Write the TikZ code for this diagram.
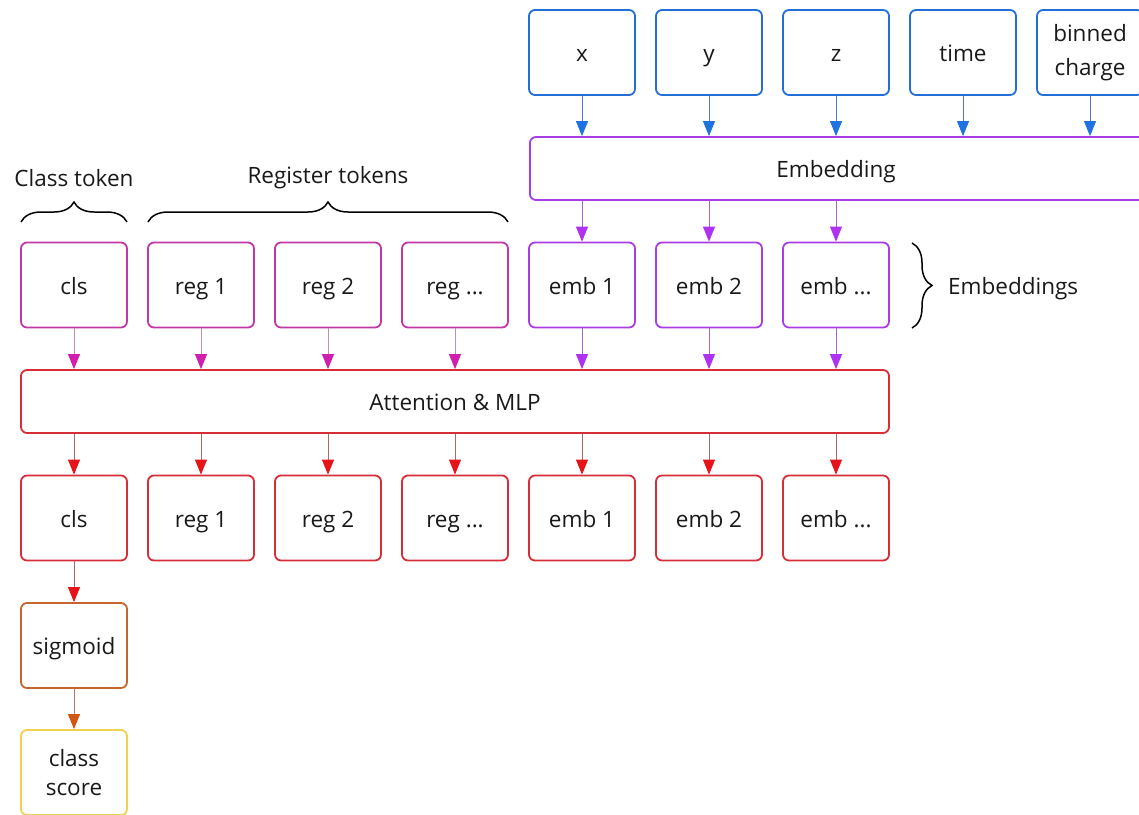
\documentclass[tikz,border=0pt]{standalone}
\usepackage{fontspec}
\setmainfont{Open Sans}
\usetikzlibrary{arrows.meta,decorations.pathreplacing}
\definecolor{cblue}{RGB}{35,110,215}
\definecolor{cbluetip}{RGB}{30,115,225}
\definecolor{cblueline}{RGB}{75,120,190}
\definecolor{cpurple}{RGB}{170,60,230}
\definecolor{cpurpletip}{RGB}{175,50,240}
\definecolor{cpurpleline}{RGB}{160,105,200}
\definecolor{cmag}{RGB}{195,55,165}
\definecolor{cmagtip}{RGB}{210,30,175}
\definecolor{cmagline}{RGB}{190,145,178}
\definecolor{cred}{RGB}{215,45,55}
\definecolor{credtip}{RGB}{230,20,25}
\definecolor{credline}{RGB}{170,105,105}
\definecolor{corange}{RGB}{200,100,45}
\definecolor{corangetip}{RGB}{210,85,20}
\definecolor{corangeline}{RGB}{170,125,115}
\definecolor{cyellow}{RGB}{240,210,80}
\definecolor{ctext}{RGB}{25,25,25}
\tikzset{
  basebox/.style={draw, rounded corners=6pt, line width=1.8pt, minimum width=106pt,
    minimum height=85pt, inner sep=0pt, fill=white, align=center, text=ctext,
    font=\fontsize{22.5}{29}\selectfont},
  box/.style={basebox, text height=18.5pt, text depth=0pt},
  twobox/.style={basebox},
  widebox/.style={box, minimum height=63pt},
  lbl/.style={font=\fontsize{22.5}{27}\selectfont, inner sep=0pt, text=ctext},
  arr/.style n args={2}{line width=1pt, draw=#1,
    -{Triangle[length=15pt,width=12pt,color=#2]}},
  brc/.style={decorate, decoration={brace, amplitude=20pt}, line width=1.5pt, black}
}
\begin{document}
\begin{tikzpicture}[x=1pt,y=-1pt]
\useasboundingbox (0,0) rectangle (1139,814);
% top inputs
\node[box, draw=cblue] (x) at (582,52.5) {x};
\node[box, draw=cblue] (y) at (709,52.5) {y};
\node[box, draw=cblue] (z) at (836,52.5) {z};
\node[box, draw=cblue] (time) at (963,52.5) {time};
\node[twobox, draw=cblue, font=\fontsize{22.5}{34}\selectfont] (bc) at (1090,52.5) {binned\\charge};
% embedding
\node[widebox, draw=cpurple, minimum width=640pt, anchor=west] (embl) at (529,168.5) {};
\node[lbl, text height=18.5pt, text depth=0pt] (embt) at (836,168.5) {Embedding};
% row 2
\node[box, draw=cmag] (cls1) at (74,285) {cls};
\node[box, draw=cmag] (r11) at (201,285) {reg 1};
\node[box, draw=cmag] (r21) at (328,285) {reg 2};
\node[box, draw=cmag] (r31) at (455,285) {reg ...};
\node[box, draw=cpurple] (e11) at (582,285) {emb 1};
\node[box, draw=cpurple] (e21) at (709,285) {emb 2};
\node[box, draw=cpurple] (e31) at (836,285) {emb ...};
% attention
\node[widebox, draw=cred, minimum width=868pt] (att) at (455,401.5) {Attention \& MLP};
% row 3
\node[box, draw=cred] (cls2) at (74,518) {cls};
\node[box, draw=cred] (r12) at (201,518) {reg 1};
\node[box, draw=cred] (r22) at (328,518) {reg 2};
\node[box, draw=cred] (r32) at (455,518) {reg ...};
\node[box, draw=cred] (e12) at (582,518) {emb 1};
\node[box, draw=cred] (e22) at (709,518) {emb 2};
\node[box, draw=cred] (e32) at (836,518) {emb ...};
% output
\node[box, draw=corange] (sig) at (74,645.5) {sigmoid};
\node[twobox, draw=cyellow] (score) at (74,772.5) {class\\score};
% labels
\node[lbl] (lcls) at (74,178) {Class token};
\node[lbl] (lreg) at (328,178) {Register tokens};
\node[lbl, anchor=west, text height=18.5pt, text depth=0pt] (lemb) at (948,285) {Embeddings};
% braces
\coordinate (b1a) at (21,222);
\coordinate (b1b) at (127,222);
\coordinate (b2a) at (148,222);
\coordinate (b2b) at (508,222);
\coordinate (b3a) at (912,243);
\coordinate (b3b) at (912,328);
\draw[brc] (b1a) -- (b1b);
\draw[brc] (b2a) -- (b2b);
\draw[brc] (b3a) -- (b3b);
% arrows top -> embedding
\foreach \n in {x,y,z,time,bc}
  \draw[arr={cblueline}{cbluetip}] (\n.south) -- (\n.south |- embl.north);
% embedding -> emb
\foreach \n in {e11,e21,e31}
  \draw[arr={cpurpleline}{cpurpletip}] (\n.north |- embl.south) -- (\n.north);
% row2 -> attention
\foreach \n in {cls1,r11,r21,r31}
  \draw[arr={cmagline}{cmagtip}] (\n.south) -- (\n.south |- att.north);
\foreach \n in {e11,e21,e31}
  \draw[arr={cpurpleline}{cpurpletip}] (\n.south) -- (\n.south |- att.north);
% attention -> row3
\foreach \n in {cls2,r12,r22,r32,e12,e22,e32}
  \draw[arr={credline}{credtip}] (\n.north |- att.south) -- (\n.north);
% output
\draw[arr={credline}{credtip}] (cls2.south) -- (sig.north);
\draw[arr={corangeline}{corangetip}] (sig.south) -- (score.north);
\end{tikzpicture}
\end{document}
